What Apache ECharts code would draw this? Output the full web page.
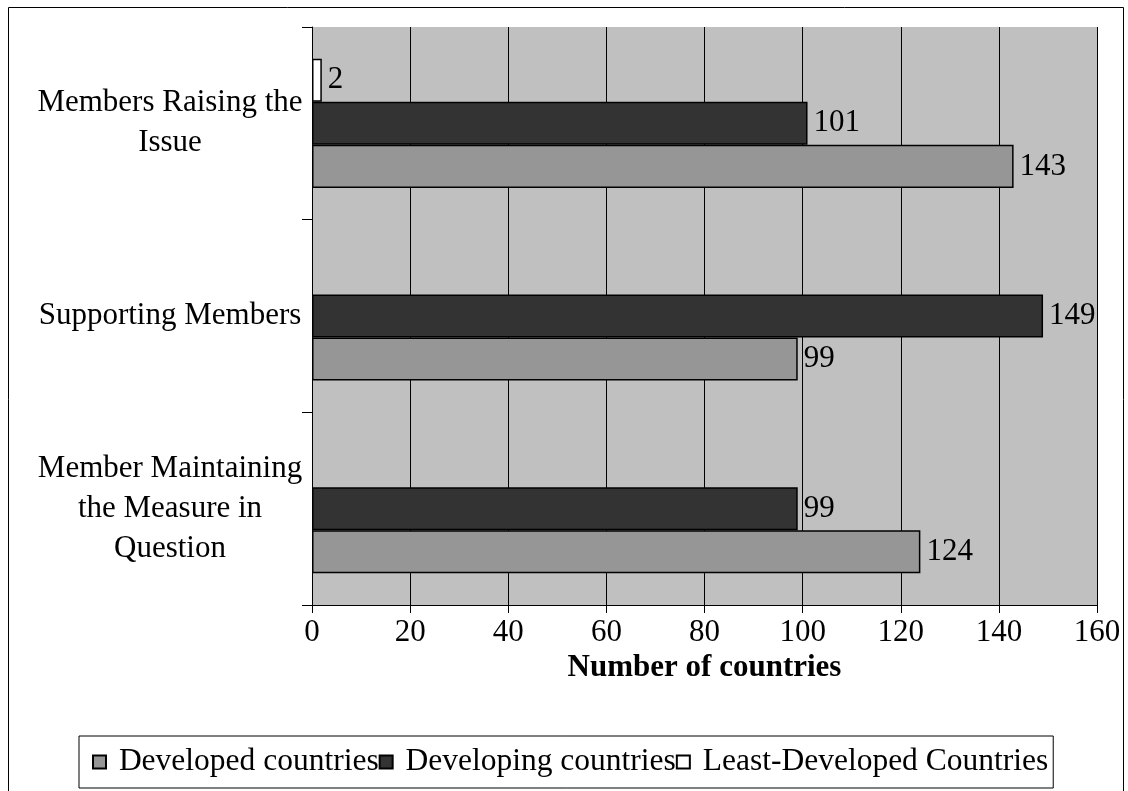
<!DOCTYPE html>
<html>
<head>
<meta charset="utf-8">
<script src="https://cdn.jsdelivr.net/npm/echarts@6/dist/echarts.min.js"></script>
<style>
html,body{margin:0;padding:0;background:#fff;}
#chart{width:1128px;height:791px;}
</style>
</head>
<body>
<div id="chart"></div>
<script>
const categories = ['Member Maintaining\nthe Measure in\nQuestion', 'Supporting Members', 'Members Raising the\nIssue'];
const seriesNames = ['Developed countries', 'Developing countries', 'Least-Developed Countries'];
const developed = [124, 99, 143];
const developing = [99, 149, 101];
const leastDeveloped = [null, null, 2];
const xTicks = { min: 0, max: 160, interval: 20 };
const axisTitle = 'Number of countries';

const FONT = 'Liberation Serif, Times New Roman, serif';
const colors = ['#969696', '#333333', '#ffffff'];
const values = [developed, developing, leastDeveloped];

// ECharts stacks horizontal grouped bars top-down in series order,
// so build series in reverse to put Developed at the bottom.
const order = [2, 1, 0];

const chart = echarts.init(document.getElementById('chart'));
chart.setOption({
  animation: false,
  backgroundColor: '#ffffff',
  graphic: [{
    type: 'rect',
    shape: { x: 8.5, y: 7.5, width: 1115, height: 800 },
    style: { fill: 'none', stroke: '#000', lineWidth: 1 },
    silent: true, z: -1
  }],
  grid: {
    left: 312, right: 31, top: 27, bottom: 186,
    show: true, backgroundColor: '#c0c0c0', borderWidth: 0
  },
  legend: {
    left: 79, top: 736,
    padding: [10, 5, 10, 13],
    borderColor: '#000', borderWidth: 1,
    itemWidth: 13, itemHeight: 13, itemGap: 0,
    icon: 'rect',
    formatter: n => ' ' + n,
    textStyle: { fontFamily: FONT, fontSize: 31.5, color: '#000', lineHeight: 32 },
    data: seriesNames
  },
  xAxis: {
    type: 'value',
    min: xTicks.min, max: xTicks.max, interval: xTicks.interval,
    name: axisTitle,
    nameLocation: 'middle',
    nameGap: 46,
    nameTextStyle: { fontFamily: FONT, fontSize: 31, fontWeight: 'bold', color: '#000' },
    axisLine: { show: true, lineStyle: { color: '#000', width: 1 } },
    axisTick: { show: true, length: 8, lineStyle: { color: '#000' } },
    axisLabel: { fontFamily: FONT, fontSize: 31, color: '#000', margin: 12 },
    splitLine: { show: true, lineStyle: { color: '#000', width: 1 } }
  },
  yAxis: {
    type: 'category',
    data: categories,
    axisLine: { show: true, lineStyle: { color: '#000', width: 1 } },
    axisTick: { show: true, length: 10, inside: false, lineStyle: { color: '#000' } },
    axisLabel: {
      fontFamily: FONT, fontSize: 31, color: '#000',
      align: 'center', margin: 142, lineHeight: 40
    }
  },
  series: order.map(i => ({
    name: seriesNames[i],
    type: 'bar',
    data: values[i],
    barGap: '0%',
    barCategoryGap: '33%',
    itemStyle: { color: colors[i], borderColor: '#000', borderWidth: 1.5 },
    label: {
      show: true, position: 'right', distance: 6,
      fontFamily: FONT, fontSize: 31, color: '#000'
    }
  }))
});
</script>
</body>
</html>
